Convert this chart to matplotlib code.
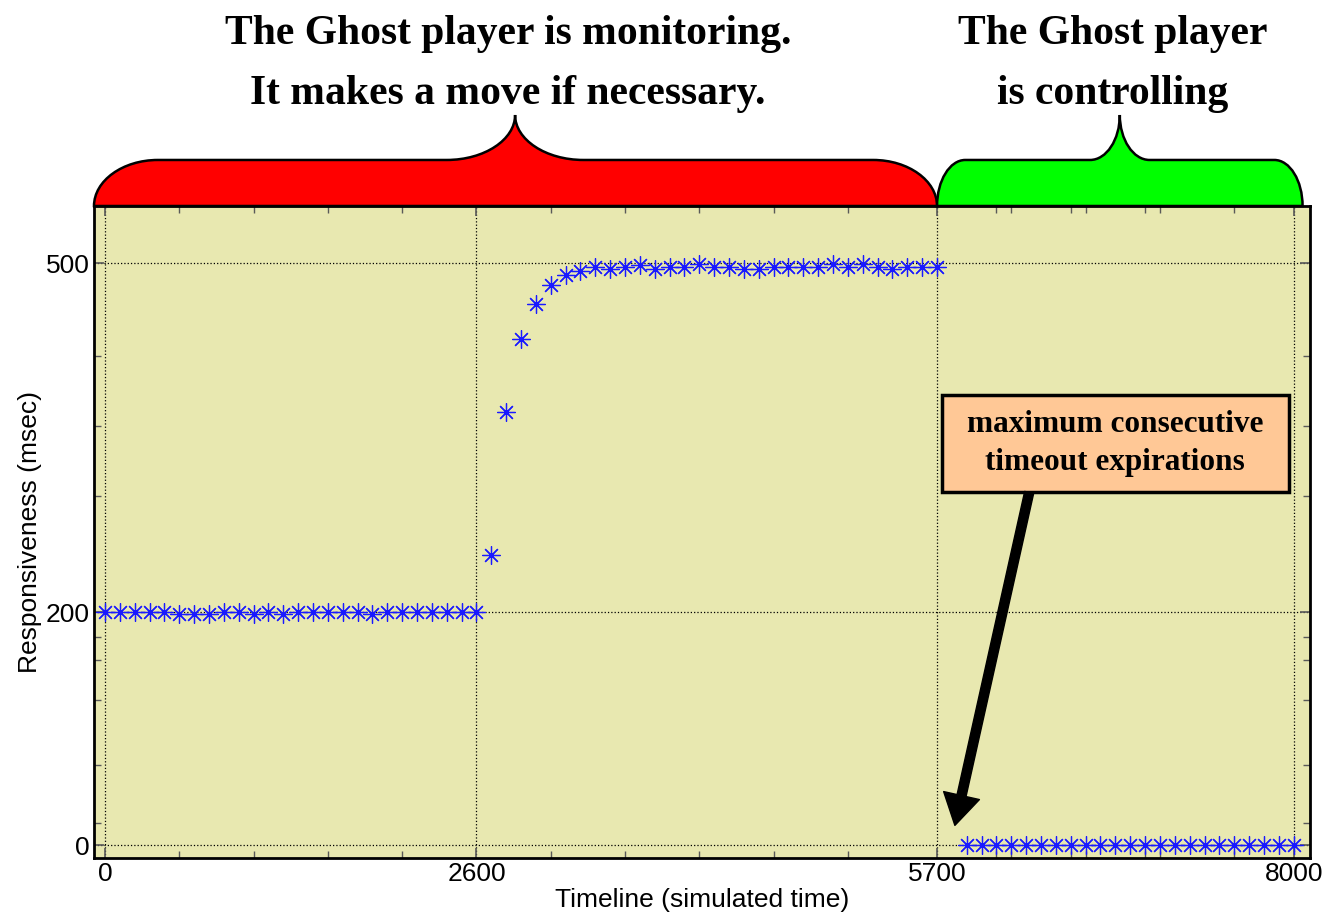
import matplotlib
matplotlib.use('Agg')
import matplotlib.pyplot as plt
from matplotlib.path import Path
from matplotlib.patches import PathPatch, Rectangle
from matplotlib import transforms

# sample index on the timeline (ticks are labelled with simulated time)
monitor_idx = list(range(0, 57))
monitor_resp = [200, 200, 200, 200, 200, 199, 199, 199, 200, 200, 199, 200, 199,
                200, 200, 200, 200, 200, 199, 200, 200, 200, 200, 200, 200, 200,
                249, 372, 435, 465, 481, 490, 493,
                497, 495, 497, 498, 495, 497, 497, 499, 497, 497, 495, 495,
                497, 497, 497, 497, 499, 497, 499, 497, 495, 497, 497, 497]
control_idx = list(range(58, 81))
control_resp = [0] * 23

xtick_pos = [0, 25, 56, 80]
xtick_labels = ['0', '2600', '5700', '8000']
ytick_pos = [0, 200, 500]
xminor = [5, 10, 15, 20, 30, 35, 40, 45, 50, 60, 61, 65, 66, 70, 71, 76]
yminor = [19, 69, 125, 159, 179, 300, 360, 420]

W, H = 1329, 918
fig = plt.figure(figsize=(W / 100, H / 100), dpi=100)
ax = fig.add_axes([94 / W, 1 - 858 / H, (1310 - 94) / W, (858 - 206) / H])
ax.set_facecolor('#e8e8b0')

star = (8, 2, 0)
ax.plot(monitor_idx, monitor_resp, linestyle='none', marker=star, markersize=13,
        markeredgewidth=0.9, color='#1a1aff', zorder=3)
ax.plot(control_idx, control_resp, linestyle='none', marker=star, markersize=13,
        markeredgewidth=0.9, color='#1a1aff', zorder=3)

ax.set_xlim(-0.74, 81.1)
ax.set_ylim(-11, 549)
ax.set_xticks(xtick_pos)
ax.set_xticklabels(xtick_labels)
ax.set_yticks(ytick_pos)
ax.set_xticks(xminor, minor=True)
ax.set_yticks(yminor, minor=True)
ax.grid(True, which='major', linestyle=':', color='black', linewidth=0.9)
ax.tick_params(which='both', direction='in', top=True, right=True, color='0.35',
               labelsize=19, pad=3)
ax.tick_params(which='major', length=7, width=1.2)
ax.tick_params(which='minor', length=5, width=1)
for lab in ax.get_xticklabels() + ax.get_yticklabels():
    lab.set_fontfamily('Liberation Sans')
for s in ax.spines.values():
    s.set_linewidth(2)

ax.set_xlabel('Timeline (simulated time)', fontsize=19, family='Liberation Sans', labelpad=1)
ax.set_ylabel('Responsiveness (msec)', fontsize=19, family='Liberation Sans', labelpad=3)

# curly braces above the axes: x in data, y in axes fraction
blend = transforms.blended_transform_factory(ax.transData, ax.transAxes)


def brace(x0, x1, xp, rx, cx, color):
    y0, yf, yp = 1.0, 1.0706, 1.1396
    k = 0.55
    dy = yf - y0
    verts = [(x0, y0),
             (x0, y0 + k * dy), (x0 + rx * (1 - k), yf), (x0 + rx, yf),
             (xp - cx, yf),
             (xp - cx * (1 - k), yf), (xp, yf + (yp - yf) * (1 - k)), (xp, yp),
             (xp, yf + (yp - yf) * (1 - k)), (xp + cx * (1 - k), yf), (xp + cx, yf),
             (x1 - rx, yf),
             (x1 - rx * (1 - k), yf), (x1, y0 + k * dy), (x1, y0),
             (x0, y0)]
    codes = [Path.MOVETO,
             Path.CURVE4, Path.CURVE4, Path.CURVE4,
             Path.LINETO,
             Path.CURVE4, Path.CURVE4, Path.CURVE4,
             Path.CURVE4, Path.CURVE4, Path.CURVE4,
             Path.LINETO,
             Path.CURVE4, Path.CURVE4, Path.CURVE4,
             Path.CLOSEPOLY]
    p = PathPatch(Path(verts, codes), facecolor=color, edgecolor='black',
                  linewidth=1.8, transform=blend, clip_on=False, zorder=5)
    ax.add_patch(p)


brace(-0.74, 56, 27.6, 4.3, 4.6, '#ff0000')
brace(56, 80.6, 68.3, 1.9, 2.0, '#00ff00')

tfont = dict(family='Liberation Serif', weight='bold', fontsize=30,
             ha='center', va='center')
fig.text(508 / W, 1 - 34 / H, 'The Ghost player is monitoring.', **tfont)
fig.text(508 / W, 1 - 94 / H, 'It makes a move if necessary.', **tfont)
fig.text(1113 / W, 1 - 34 / H, 'The Ghost player', **tfont)
fig.text(1113 / W, 1 - 94 / H, 'is controlling', **tfont)

ax.add_patch(Rectangle((56.3, 303), 23.4, 84, facecolor='#ffc896', edgecolor='black',
                       linewidth=2.5, zorder=6))
ax.text(68.0, 345, 'maximum consecutive\ntimeout expirations', family='Liberation Serif',
        weight='bold', fontsize=22.5, ha='center', va='center', linespacing=1.45, zorder=7)
ax.annotate('', xy=(57.2, 17), xytext=(62.2, 303), zorder=6,
            arrowprops=dict(arrowstyle='simple,head_width=2.4,head_length=2.0,tail_width=0.6',
                            mutation_scale=11, color='black', shrinkA=0, shrinkB=0))

fig.savefig('out.png', dpi=100)
